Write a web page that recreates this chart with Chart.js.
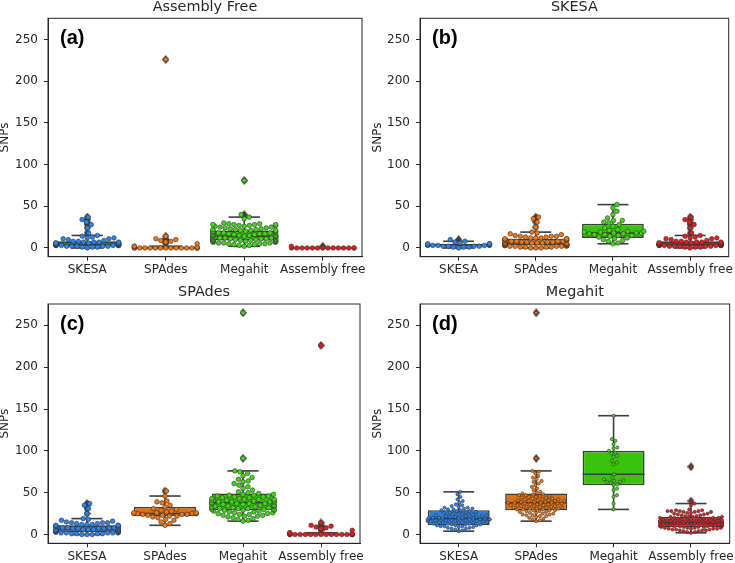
<!DOCTYPE html>
<html>
<head>
<meta charset="utf-8">
<script src="https://cdn.jsdelivr.net/npm/chart.js@4.4.1/dist/chart.umd.min.js"></script>
<style>
body { margin: 0; background: #fff; width: 735px; height: 563px; position: relative; overflow: hidden; }
canvas { position: absolute; }
</style>
</head>
<body>
<canvas id="c0" width="367" height="280" style="left:0;top:0"></canvas>
<canvas id="c1" width="368" height="280" style="left:367px;top:0"></canvas>
<canvas id="c2" width="367" height="278" style="left:0;top:285px"></canvas>
<canvas id="c3" width="368" height="278" style="left:367px;top:285px"></canvas>
<script>
var categories = ['SKESA', 'SPAdes', 'Megahit', 'Assembly free'];
var panelTitles = ['Assembly Free', 'SKESA', 'SPAdes', 'Megahit'];
var panelTags = ['(a)', '(b)', '(c)', '(d)'];
var yTicks = [0, 50, 100, 150, 200, 250];

// SNP counts per genome, one list per assembler
var aSkesa = [0,1,1,1,2,2,2,2,2,3,3,3,3,3,3,3,4,4,4,4,4,4,4,4,5,5,5,5,5,5,5,6,6,6,6,6,7,7,7,7,8,8,9,10,11,11,12,12,13,14,15,18,24,28,31,34,37];
var aSpades = [0,0,0,0,0,0,0,0,0,0,0,0,0,0,0,0,1,1,2,2,5,7,8,9,10,11,14,226];
var aMegahit = [2,3,3,4,4,5,5,5,6,6,6,7,7,7,7,8,8,8,8,9,9,9,9,10,10,10,10,10,11,11,11,11,12,12,12,12,12,13,13,13,13,14,14,14,14,14,15,15,15,15,16,16,16,16,17,17,17,17,18,18,18,18,19,19,19,20,20,20,20,21,21,21,22,22,22,23,23,24,24,25,25,26,26,27,27,27,28,28,28,28,29,29,30,35,37,40,81];
var aFree = [0,0,0,0,0,0,0,0,0,0,0,0,0,0,2];

var bSkesa = [0,1,1,1,2,2,2,2,3,3,3,3,3,4,4,4,4,5,5,5,6,7,8,10];
var bSpades = [0,0,0,1,1,1,1,2,2,2,2,2,3,3,3,3,3,3,4,4,4,4,4,4,5,5,5,5,5,6,6,6,6,6,7,7,7,7,7,8,8,8,8,9,9,9,9,10,10,10,11,11,11,12,12,12,13,13,14,14,14,15,16,17,18,19,25,31,35,37];
var bMegahit = [5,6,8,9,10,11,12,13,14,15,15,16,16,17,17,18,18,18,19,19,20,20,21,22,24,26,28,30,31,33,33,36,40,44,48,52];
var bFree = aSkesa;

var cSkesa = bSpades;
var cSpades = [11,13,15,17,18,20,21,22,22,23,23,24,24,24,25,25,25,25,25,26,26,26,27,28,29,30,31,33,35,38,39,40,46,52];
var cMegahit = [16,17,18,19,20,21,22,22,23,23,24,24,25,25,26,26,27,27,28,28,29,29,29,30,30,30,31,31,31,32,32,32,33,33,33,34,34,34,35,35,35,36,36,36,37,37,37,38,38,38,38,39,39,39,40,40,40,41,41,41,42,42,42,43,43,44,44,45,45,46,46,47,47,48,48,49,50,51,53,55,57,59,61,63,64,66,68,70,73,75,76,91,265];
var cFree = aSpades;

var dSkesa = [4,5,6,7,7,8,8,9,9,10,10,10,11,11,11,12,12,12,13,13,13,14,14,14,15,15,15,15,16,16,16,16,17,17,17,17,18,18,18,18,18,19,19,19,19,20,20,20,20,21,21,21,22,22,22,23,23,23,24,24,25,25,26,26,27,27,28,28,29,29,30,30,31,31,32,32,33,34,35,36,38,40,42,45,48,51];
var dSpades = cMegahit;
var dMegahit = [30,37,45,47,53,55,59,60,62,63,63,64,65,66,68,72,84,86,88,93,94,97,98,100,103,104,108,112,114,142];
var dFree = aMegahit;

// box stats: [low whisker, q1, median, q3, high whisker]
var aBoxes = [[0,2,4,8,15], [0,0,0,1,2], [2,9,14,21,37], [0,0,0,0,0]];
var bBoxes = [[0,2,3,5,8], [0,3,6,11,19], [5,12,18,29,52], [0,2,4,8,15]];
var cBoxes = [[0,3,6,11,19], [11,22,25,33,46], [16,29,38,49,76], [0,0,0,1,2]];
var dBoxes = [[4,11,19,29,51], [16,29,38,49,76], [30,59,72,100,142], [2,9,14,21,37]];

var aOutliers = [[18,24,28,31,34,37], [5,7,8,9,10,11,14,226], [40,81], [2]];
var bOutliers = [[10], [25,31,35,37], [], [18,24,28,31,34,37]];
var cOutliers = [[25,31,35,37], [52], [91,265], [5,7,8,9,10,11,14,226]];
var dOutliers = [[], [91,265], [], [40,81]];

var boxColors = ['#2c7fd6', '#e2700c', '#38c40a', '#cc2334'];
var dotColors = ['#2a84f2', '#f7760e', '#40d816', '#e81c1f'];
var ink = '#262626';
var edge = '#3d3d3d';

var panels = [
    {points: [aSkesa, aSpades, aMegahit, aFree], boxes: aBoxes, outliers: aOutliers, radius: 2.3, yWidth: 48, padRight: 4, padTop: 18.3, xHeight: 23.3, labelPad: -1},
    {points: [bSkesa, bSpades, bMegahit, bFree], boxes: bBoxes, outliers: bOutliers, radius: 2.3, yWidth: 53, padRight: 6.3, padTop: 18.3, xHeight: 23.3, labelPad: 5},
    {points: [cSkesa, cSpades, cMegahit, cFree], boxes: cBoxes, outliers: cOutliers, radius: 2.3, yWidth: 48, padRight: 7, padTop: 19, xHeight: 19.7, labelPad: -1},
    {points: [dSkesa, dSpades, dMegahit, dFree], boxes: dBoxes, outliers: dOutliers, radius: 1.6, yWidth: 53, padRight: 5.3, padTop: 19, xHeight: 19.7, labelPad: 5}
];

// thin diamond used for the fliers
var diamond = document.createElement('canvas');
diamond.width = 7;
diamond.height = 9;
var g = diamond.getContext('2d');
g.fillStyle = edge;
g.beginPath();
g.moveTo(3.5, 0); g.lineTo(7, 4.5); g.lineTo(3.5, 9); g.lineTo(0, 4.5);
g.closePath();
g.fill();

// beeswarm offsets in pixels, points sorted by value, closest free slot to the centre
function swarm(py, d, limit) {
    var order = py.map(function(y, i) { return i; }).sort(function(a, b) { return py[b] - py[a]; });
    var placed = [];
    var out = [];
    order.forEach(function(i) {
        var y = py[i];
        var near = placed.filter(function(p) { return Math.abs(p.y - y) < d; });
        var cands = [0];
        near.forEach(function(p) {
            var h = Math.sqrt(d * d - (p.y - y) * (p.y - y));
            cands.push(p.x + h, p.x - h);
        });
        cands.sort(function(a, b) { return Math.abs(a) - Math.abs(b); });
        var x = cands.find(function(c) {
            return near.every(function(p) { return (p.x - c) * (p.x - c) + (p.y - y) * (p.y - y) >= d * d - 0.01; });
        });
        placed.push({x: x, y: y});
        out[i] = Math.max(-limit, Math.min(limit, x));
    });
    return out;
}

function line(ctx, x1, y1, x2, y2) {
    ctx.beginPath();
    ctx.moveTo(x1, y1);
    ctx.lineTo(x2, y2);
    ctx.stroke();
}

function boxParts(p, k) {
    return {
        id: 'boxParts' + k,
        afterDatasetDraw: function(chart, args) {
            if (args.index !== 0) return;
            var xs = chart.scales.x, ys = chart.scales.y, ctx = chart.ctx;
            var cat = xs.getPixelForValue(1) - xs.getPixelForValue(0);
            ctx.save();
            ctx.strokeStyle = edge;
            ctx.lineWidth = 1.6;
            p.boxes.forEach(function(b, i) {
                var cx = xs.getPixelForValue(i);
                var lo = ys.getPixelForValue(b[0]), q1 = ys.getPixelForValue(b[1]);
                var md = ys.getPixelForValue(b[2]), q3 = ys.getPixelForValue(b[3]);
                var hi = ys.getPixelForValue(b[4]);
                if (b[0] < b[1]) {
                    line(ctx, cx, q1, cx, lo);
                    line(ctx, cx - cat * 0.2, lo, cx + cat * 0.2, lo);
                }
                if (b[4] > b[3]) {
                    line(ctx, cx, q3, cx, hi);
                    line(ctx, cx - cat * 0.2, hi, cx + cat * 0.2, hi);
                }
                line(ctx, cx - cat * 0.4, md, cx + cat * 0.4, md);
            });
            ctx.restore();
        },
        afterDraw: function(chart) {
            var a = chart.chartArea, ctx = chart.ctx;
            ctx.save();
            ctx.strokeStyle = ink;
            ctx.lineWidth = 1;
            ctx.strokeRect(a.left, a.top, a.right - a.left, a.bottom - a.top);
            ctx.fillStyle = ink;
            ctx.textAlign = 'center';
            ctx.textBaseline = 'middle';
            ctx.font = '14.4px "DejaVu Sans"';
            ctx.fillText(panelTitles[k], (a.left + a.right) / 2, a.top - 11.5);
            ctx.fillStyle = '#000';
            ctx.textAlign = 'left';
            ctx.font = 'bold 20px "Liberation Sans"';
            ctx.fillText(panelTags[k], a.left + 12, a.top + 20);
            ctx.restore();
        }
    };
}

function axisLook() {
    return {
        grid: {display: true, drawOnChartArea: false, offset: false, tickLength: 4, color: ink, lineWidth: 1},
        border: {display: true, color: ink, width: 1}
    };
}

function makeChart(k) {
    var p = panels[k];
    var flierData = [];
    p.outliers.forEach(function(o, i) {
        o.forEach(function(v) { flierData.push({x: i, y: v}); });
    });
    var datasets = [{
        type: 'bar',
        order: 3,
        data: p.boxes.map(function(b, i) { return {x: i, y: [b[1], b[3]]}; }),
        backgroundColor: boxColors,
        borderColor: edge,
        borderWidth: 1.6,
        borderSkipped: false,
        categoryPercentage: 0.8,
        barPercentage: 1
    }, {
        type: 'scatter',
        order: 2,
        data: flierData,
        pointStyle: diamond,
        pointRadius: 4
    }];
    p.points.forEach(function(vals, i) {
        datasets.push({
            type: 'scatter',
            order: 1,
            swarmCat: i,
            data: vals.map(function(v) { return {x: i, y: v}; }),
            pointRadius: p.radius,
            pointBackgroundColor: dotColors[i],
            pointBorderColor: '#333',
            pointBorderWidth: 0.6
        });
    });

    var xLook = axisLook(), yLook = axisLook();
    var chart = new Chart(document.getElementById('c' + k), {
        type: 'bar',
        data: {datasets: datasets},
        plugins: [boxParts(p, k)],
        options: {
            responsive: false,
            animation: false,
            layout: {padding: {left: 0, top: p.padTop, right: p.padRight, bottom: 0}},
            plugins: {legend: {display: false}, tooltip: {enabled: false}},
            scales: {
                x: {
                    type: 'linear', min: -0.5, max: 3.5, offset: false,
                    afterBuildTicks: function(s) { s.ticks = categories.map(function(c, i) { return {value: i}; }); },
                    afterFit: function(s) { s.height = p.xHeight; s.paddingLeft = 0; s.paddingRight = 0; },
                    ticks: {
                        callback: function(v) { return categories[v]; },
                        font: {family: 'DejaVu Sans', size: 12}, color: ink,
                        padding: 2, maxRotation: 0, autoSkip: false
                    },
                    grid: xLook.grid, border: xLook.border
                },
                y: {
                    min: -10.5, max: 275.5,
                    afterBuildTicks: function(s) { s.ticks = yTicks.map(function(v) { return {value: v}; }); },
                    afterFit: function(s) { s.width = p.yWidth; s.paddingTop = 0; s.paddingBottom = 0; },
                    ticks: {font: {family: 'DejaVu Sans', size: 12}, color: ink, padding: 6},
                    grid: yLook.grid, border: yLook.border,
                    title: {display: true, text: 'SNPs', color: ink, font: {family: 'DejaVu Sans', size: 12, lineHeight: 1}, padding: {top: p.labelPad, bottom: 0}}
                }
            }
        }
    });

    // spread each swarm with the scales the chart just laid out
    var xs = chart.scales.x, ys = chart.scales.y;
    var cat = xs.getPixelForValue(1) - xs.getPixelForValue(0);
    var diam = 2 * p.radius + 0.6;
    chart.data.datasets.forEach(function(ds) {
        if (ds.swarmCat === undefined) return;
        var py = ds.data.map(function(d) { return ys.getPixelForValue(d.y); });
        var dx = swarm(py, diam, cat * 0.4);
        ds.data = ds.data.map(function(d, j) { return {x: ds.swarmCat + dx[j] / cat, y: d.y}; });
    });
    chart.update('none');
    return chart;
}

window.onload = function() {
    for (var k = 0; k < 4; k++) makeChart(k);
};
</script>
</body>
</html>
